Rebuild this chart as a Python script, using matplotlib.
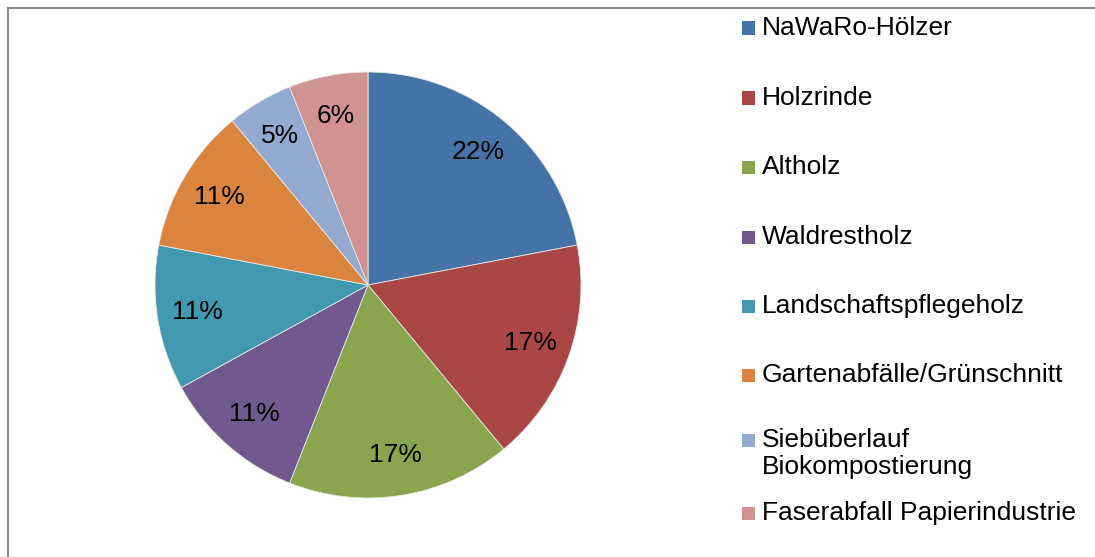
import matplotlib
matplotlib.use('Agg')
import matplotlib.pyplot as plt
from matplotlib.patches import Rectangle

plt.rcParams['font.family'] = ['Liberation Sans', 'DejaVu Sans']

# Anteile der Holzsortimente (Prozent)
labels = ['NaWaRo-Hölzer', 'Holzrinde', 'Altholz', 'Waldrestholz',
          'Landschaftspflegeholz', 'Gartenabfälle/Grünschnitt',
          'Siebüberlauf\nBiokompostierung', 'Faserabfall Papierindustrie']
values = [22, 17, 17, 11, 11, 11, 5, 6]
colors = ['#4572A7', '#AA4643', '#89A54E', '#71588F',
          '#4198AF', '#DB843D', '#93A9CF', '#D19392']

W, H = 1095, 557
FS = 19
fig = plt.figure(figsize=(W / 100, H / 100), dpi=100)

# pie: centre (368, 285), radius 213 px
cx, cy, r = 368, 285, 213
ax = fig.add_axes([(cx - r) / W, (H - cy - r) / H, 2 * r / W, 2 * r / H])
ax.pie(values, colors=colors, startangle=90, counterclock=False,
       autopct='%1.0f%%', pctdistance=0.81,
       wedgeprops=dict(edgecolor='#e8e8e8', linewidth=0.6),
       textprops=dict(fontsize=FS, color='black'))
ax.set_xlim(-1, 1)
ax.set_ylim(-1, 1)
ax.set_aspect('equal')

# Legende von Hand, wie im Original
leg_y = [28, 98, 167, 237, 306, 375, 440, 513]
for lab, col, y in zip(labels, colors, leg_y):
    fig.add_artist(Rectangle((742 / W, 1 - (y + 6.5) / H), 13 / W, 13 / H,
                             transform=fig.transFigure, facecolor=col,
                             edgecolor='none'))
    fig.text(762 / W, 1 - y / H, lab.split('\n')[0], fontsize=FS,
             va='center', ha='left')
    if '\n' in lab:
        fig.text(762 / W, 1 - (y + 27) / H, lab.split('\n')[1], fontsize=FS,
                 va='center', ha='left')

# Rahmen oben und links
fig.add_artist(plt.Line2D([7.5 / W, 1], [1 - 8 / H, 1 - 8 / H],
                          transform=fig.transFigure, color='#8c8c8c', lw=1.5))
fig.add_artist(plt.Line2D([7.5 / W, 7.5 / W], [0, 1 - 8 / H],
                          transform=fig.transFigure, color='#8c8c8c', lw=1.5))

fig.savefig('out.png', dpi=100)
